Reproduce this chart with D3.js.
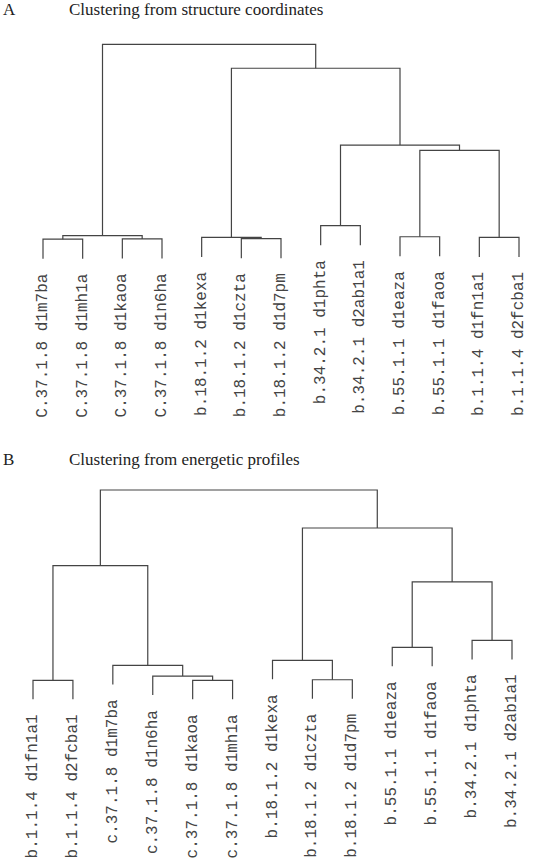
<!DOCTYPE html>
<html>
<head>
<meta charset="utf-8">
<script src="https://cdn.jsdelivr.net/npm/d3@7"></script>
<style>
  html, body { margin: 0; padding: 0; background: #fff; }
  svg { display: block; }
</style>
</head>
<body>
<div id="chart"></div>
<script>
// ---------- Panel A: clustering from structure coordinates ----------
const titleA = "Clustering from structure coordinates";
const leavesA = [
  "C.37.1.8 d1m7ba", "C.37.1.8 d1mh1a", "C.37.1.8 d1kaoa", "C.37.1.8 d1n6ha",
  "b.18.1.2 d1kexa", "b.18.1.2 d1czta", "b.18.1.2 d1d7pm",
  "b.34.2.1 d1phta", "b.34.2.1 d2ab1a1",
  "b.55.1.1 d1eaza", "b.55.1.1 d1faoa",
  "b.1.1.4 d1fn1a1", "b.1.1.4 d2fcba1"
];
// hclust-style merge table: negative = leaf (1-based), positive = earlier merge (1-based)
const mergesA = [
  [-1, -2], [-3, -4], [1, 2], [-6, -7], [-5, 4], [-8, -9],
  [-10, -11], [-12, -13], [7, 8], [6, 9], [5, 10], [3, 11]
];
const heightsA = [1.05, 1.06, 1.21, 1.07, 1.13, 1.67, 1.16, 1.13, 5.13, 5.37, 8.90, 10.0];

// ---------- Panel B: clustering from energetic profiles ----------
const titleB = "Clustering from energetic profiles";
const leavesB = [
  "b.1.1.4 d1fn1a1", "b.1.1.4 d2fcba1",
  "c.37.1.8 d1m7ba", "c.37.1.8 d1n6ha", "c.37.1.8 d1kaoa", "c.37.1.8 d1mh1a",
  "b.18.1.2 d1kexa", "b.18.1.2 d1czta", "b.18.1.2 d1d7pm",
  "b.55.1.1 d1eaza", "b.55.1.1 d1faoa",
  "b.34.2.1 d1phta", "b.34.2.1 d2ab1a1"
];
const mergesB = [
  [-1, -2], [-5, -6], [-4, 2], [-3, 3], [1, 4], [-8, -9],
  [-7, 6], [-10, -11], [-12, -13], [8, 9], [7, 10], [5, 11]
];
const heightsB = [0.19, 0.19, 0.41, 0.96, 6.10, 0.22, 1.22, 1.89, 2.25, 5.26, 8.04, 10.0];

const W = 545, H = 866;
const svg = d3.select("#chart").append("svg")
  .attr("width", W).attr("height", H)
  .style("background", "#fff");

svg.append("rect").attr("width", W).attr("height", H).attr("fill", "#fff");

function panel(letter, title, titleY, leaves, merges, heights, xRange, yRange) {
  const g = svg.append("g");
  g.append("text").attr("x", 3).attr("y", titleY)
    .attr("font-family", "'Liberation Serif', 'Times New Roman', serif")
    .attr("font-size", 17).attr("fill", "#222").text(letter);
  g.append("text").attr("x", 69).attr("y", titleY)
    .attr("font-family", "'Liberation Serif', 'Times New Roman', serif")
    .attr("font-size", 17).attr("fill", "#222").text(title);

  const x = d3.scalePoint().domain(leaves).range(xRange);
  const y = d3.scaleLinear().domain([0, 10]).range(yRange);
  const hang = 0.1 * (d3.max(heights) - d3.min(heights));

  const nodeX = [];
  const leafEnd = {};
  merges.forEach((m, i) => {
    const h = heights[i];
    const pts = m.map(c => {
      if (c < 0) {
        const name = leaves[-c - 1];
        leafEnd[name] = h - hang;
        return { x: x(name), h: h - hang };
      }
      return { x: nodeX[c - 1], h: heights[c - 1] };
    });
    nodeX[i] = (pts[0].x + pts[1].x) / 2;
    const p = d3.path();
    p.moveTo(pts[0].x, y(pts[0].h));
    p.lineTo(pts[0].x, y(h));
    p.lineTo(pts[1].x, y(h));
    p.lineTo(pts[1].x, y(pts[1].h));
    g.append("path").attr("d", p.toString())
      .attr("fill", "none").attr("stroke", "#444").attr("stroke-width", 1.2);
  });

  g.selectAll("text.leaf").data(leaves).enter().append("text")
    .attr("class", "leaf")
    .attr("transform", d => `translate(${x(d)},${y(leafEnd[d]) + 15}) rotate(-90)`)
    .attr("dy", "0.25em")
    .attr("text-anchor", "end")
    .attr("font-family", "'Liberation Mono', 'Courier New', monospace")
    .attr("font-size", 16)
    .attr("fill", "#444")
    .style("white-space", "pre")
    .text(d => d);
}

panel("A", titleA, 15, leavesA, mergesA, heightsA, [43, 519], [262, 44.3]);
panel("B", titleB, 465, leavesB, mergesB, heightsB, [33, 512], [684, 490]);
</script>
</body>
</html>
